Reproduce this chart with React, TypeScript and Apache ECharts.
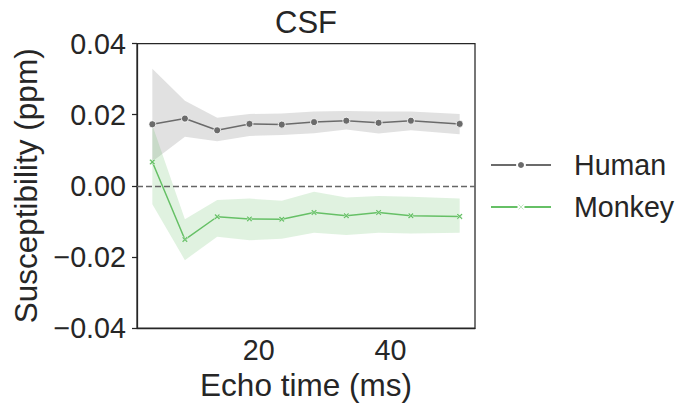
import React, { useEffect, useRef } from "react";
import * as echarts from "echarts";

const echoTimes = [3.86, 8.8, 13.7, 18.6, 23.5, 28.4, 33.3, 38.2, 43.1, 50.5];
const human = [0.0173, 0.0189, 0.0156, 0.0174, 0.0172, 0.0179, 0.0183, 0.0177, 0.0183, 0.0174];
const humanLo = [0.0068, 0.0138, 0.0125, 0.014, 0.0143, 0.0148, 0.0158, 0.0147, 0.0156, 0.0145];
const humanHi = [0.0329, 0.0239, 0.0191, 0.0202, 0.0203, 0.0209, 0.021, 0.0209, 0.0209, 0.0202];
const monkey = [0.0067, -0.0151, -0.0087, -0.0093, -0.0094, -0.0075, -0.0084, -0.0075, -0.0084, -0.0086];
const monkeyLo = [-0.0052, -0.0209, -0.0143, -0.0153, -0.0149, -0.0132, -0.0138, -0.0132, -0.0134, -0.0132];
const monkeyHi = [0.017, -0.0094, -0.004, -0.0036, -0.0042, -0.0017, -0.0033, -0.0029, -0.0031, -0.0036];
const xTicks = [20, 40];
const yTicks = [-0.04, -0.02, 0, 0.02, 0.04];

const FONT = "'Liberation Sans', Arial, sans-serif";
const INK = "#262626";
const GREY = "#6b6b6b";
const GREEN = "#66c066";
const XMARK = "path://M2,0 L5,3 L8,0 L10,2 L7,5 L10,8 L8,10 L5,7 L2,10 L0,8 L3,5 L0,2 Z";

function band(lo: number[], hi: number[], color: string, name: string) {
  const data = echoTimes.map((x, i) => [x, lo[i], hi[i]]);
  return {
    type: "custom",
    name,
    z: 1,
    silent: true,
    data,
    encode: { x: 0, y: [1, 2] },
    renderItem: (params: any, api: any) => {
      if (params.dataIndex !== 0) return null;
      const up = data.map((d) => api.coord([d[0], d[2]]));
      const down = data.map((d) => api.coord([d[0], d[1]])).reverse();
      return {
        type: "polygon",
        shape: { points: up.concat(down) },
        style: { fill: color },
      };
    },
  };
}

function fmt(v: number) {
  if (Math.abs(v) < 1e-9) return "0.00";
  const s = Math.abs(v).toFixed(2);
  return v < 0 ? "\u2212" + s : s;
}

export default function App() {
  const ref = useRef<HTMLDivElement>(null);
  useEffect(() => {
    document.body.style.margin = "0";
    const chart = echarts.init(ref.current!, null, { renderer: "svg" });
    chart.setOption({
      animation: false,
      backgroundColor: "#ffffff",
      textStyle: { fontFamily: FONT, color: INK },
      grid: {
        left: 137,
        right: 202,
        top: 43.5,
        bottom: 72.5,
        show: true,
        borderColor: INK,
        borderWidth: 1.25,
        backgroundColor: "transparent",
      },
      graphic: [
        {
          type: "text",
          x: 306,
          y: 7,
          style: {
            text: "CSF",
            font: `31px ${FONT}`,
            fill: INK,
            textAlign: "center",
            textVerticalAlign: "top",
          },
        },
      ],
      legend: {
        left: 485,
        top: 145,
        orient: "vertical",
        itemWidth: 60,
        itemHeight: 10,
        itemGap: 12,
        data: ["Human", "Monkey"],
        textStyle: {
          fontFamily: FONT,
          fontSize: 28.6,
          color: INK,
          lineHeight: 30,
          padding: [0, 0, 0, 18],
        },
      },
      xAxis: {
        type: "value",
        min: 1.53,
        max: 52.83,
        name: "Echo time (ms)",
        nameLocation: "middle",
        nameGap: 36,
        nameTextStyle: { fontFamily: FONT, fontSize: 31.5, color: INK },
        axisLine: { show: true, onZero: false, lineStyle: { color: INK, width: 1.25 } },
        axisTick: { show: false },
        splitLine: { show: false },
        axisLabel: {
          customValues: xTicks,
          fontFamily: FONT,
          fontSize: 28.7,
          color: INK,
          margin: 7,
        },
      },
      yAxis: {
        type: "value",
        min: -0.04,
        max: 0.04,
        interval: 0.02,
        name: "Susceptibility (ppm)",
        nameLocation: "middle",
        nameGap: 95,
        nameTextStyle: { fontFamily: FONT, fontSize: 31.5, color: INK },
        axisLine: { show: true, onZero: false, lineStyle: { color: INK, width: 1.25 } },
        axisTick: {
          show: true,
          customValues: yTicks,
          length: 5,
          lineStyle: { color: INK, width: 1.25 },
        },
        splitLine: { show: false },
        axisLabel: {
          customValues: yTicks,
          formatter: fmt,
          fontFamily: FONT,
          fontSize: 28.7,
          color: INK,
          margin: 11,
        },
      },
      series: [
        band(humanLo, humanHi, "rgba(107,107,107,0.2)", "HumanBand"),
        band(monkeyLo, monkeyHi, "rgba(102,192,102,0.2)", "MonkeyBand"),
        {
          type: "line",
          name: "Human",
          z: 3,
          data: echoTimes.map((x, i) => [x, human[i]]),
          symbol: "circle",
          symbolSize: 7,
          lineStyle: { color: GREY, width: 1.5 },
          itemStyle: { color: GREY, borderColor: "#ffffff", borderWidth: 0.8 },
          markLine: {
            silent: true,
            symbol: "none",
            label: { show: false },
            lineStyle: { color: "#666666", type: [6, 3], width: 1.4 },
            data: [{ yAxis: 0 }],
          },
        },
        {
          type: "line",
          name: "Monkey",
          z: 4,
          data: echoTimes.map((x, i) => [x, monkey[i]]),
          symbol: XMARK,
          symbolSize: 6,
          lineStyle: { color: GREEN, width: 1.5 },
          itemStyle: { color: GREEN, borderColor: "#ffffff", borderWidth: 0.5 },
        },
      ],
    });
    return () => chart.dispose();
  }, []);
  return <div ref={ref} style={{ width: 677, height: 406 }} />;
}
